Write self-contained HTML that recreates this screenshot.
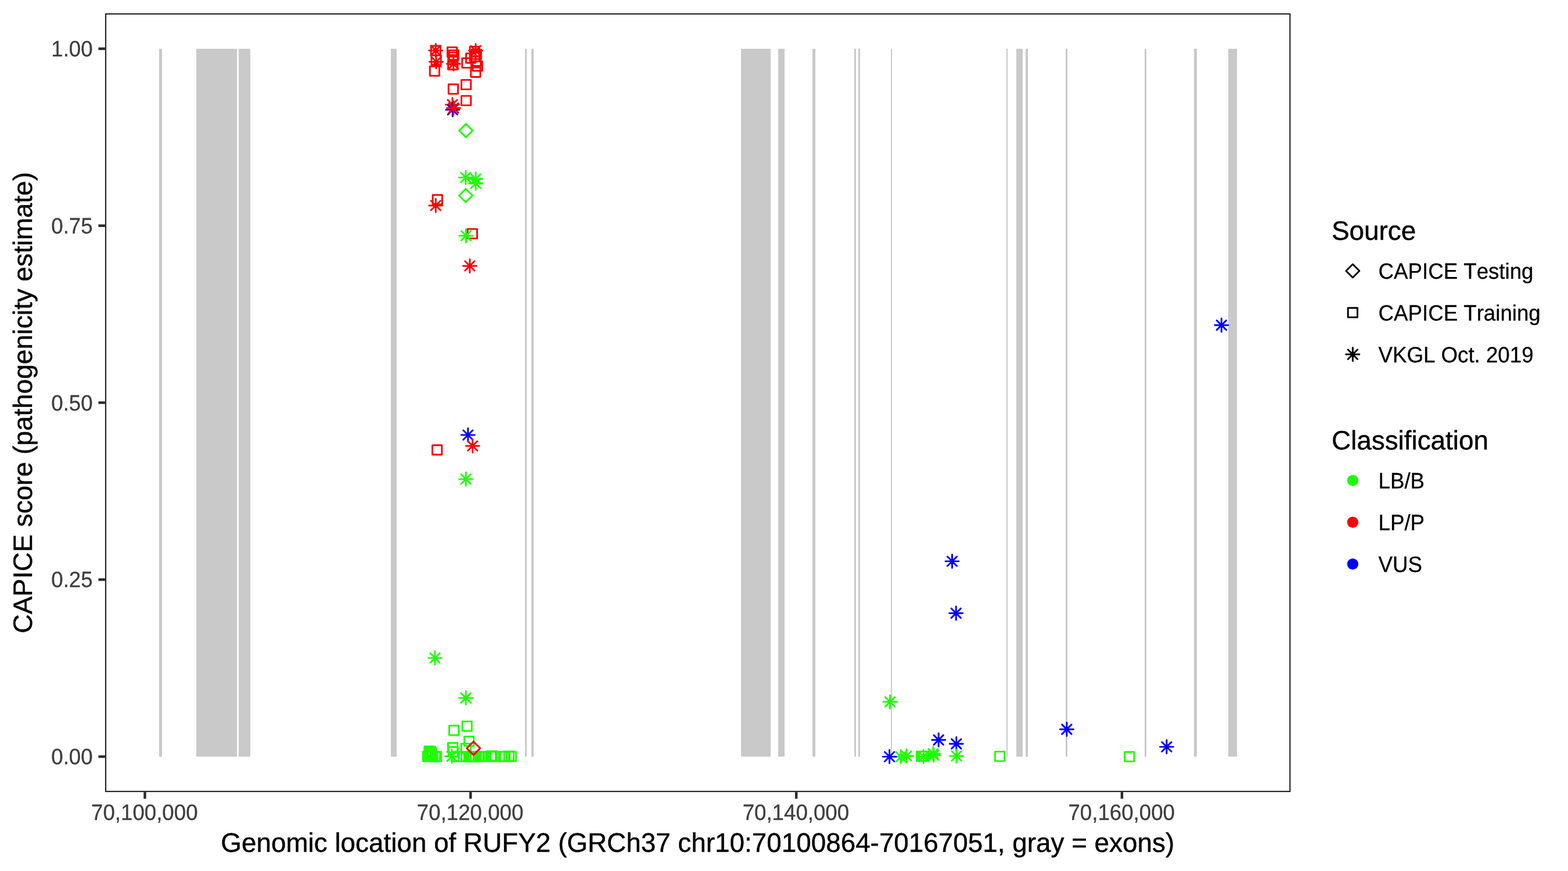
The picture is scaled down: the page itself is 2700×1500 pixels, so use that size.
<!DOCTYPE html>
<html lang="en"><head><meta charset="utf-8"><title>CAPICE score RUFY2</title>
<style>html,body{margin:0;padding:0;background:#fff}body{width:2700px;height:1500px;overflow:hidden}svg{display:block}text{font-family:"Liberation Sans",sans-serif;font-kerning:none;font-variant-ligatures:none;text-rendering:geometricPrecision}.ax{font-size:36.67px;fill:#3e3e3e;stroke:#3e3e3e;stroke-width:.3px}.ti{font-size:45.83px;fill:#000;stroke:#000;stroke-width:.45px}.lg{font-size:36.67px;fill:#000;stroke:#000;stroke-width:.3px}.p{fill:none;stroke-width:2.95;stroke-linecap:round;stroke-linejoin:round}</style></head><body>
<svg width="2700" height="1500" viewBox="0 0 2700 1500">
<rect width="2700" height="1500" fill="#fff"/>
<g fill="#c9c9c9" shape-rendering="crispEdges">
<rect x="274" y="84" width="5" height="1219"/>
<rect x="338" y="84" width="70" height="1219"/>
<rect x="411" y="84" width="20" height="1219"/>
<rect x="673" y="84" width="10" height="1219"/>
<rect x="904" y="84" width="3" height="1219"/>
<rect x="915" y="84" width="4" height="1219"/>
<rect x="1276" y="84" width="51" height="1219"/>
<rect x="1340" y="84" width="11" height="1219"/>
<rect x="1399" y="84" width="5" height="1219"/>
<rect x="1471" y="84" width="3" height="1219"/>
<rect x="1478" y="84" width="3" height="1219"/>
<rect x="1534" y="84" width="2" height="1219"/>
<rect x="1733" y="84" width="2" height="1219"/>
<rect x="1750" y="84" width="11" height="1219"/>
<rect x="1766" y="84" width="4" height="1219"/>
<rect x="1835" y="84" width="3" height="1219"/>
<rect x="1971" y="84" width="3" height="1219"/>
<rect x="2056" y="84" width="5" height="1219"/>
<rect x="2115" y="84" width="15" height="1219"/>
</g>
<path class="p" stroke="#1eff00" d="M728.26 1294.76h16.28v16.28h-16.28zM729.46 1294.76h16.28v16.28h-16.28zM730.56 1291.16h16.28v16.28h-16.28zM730.76 1294.76h16.28v16.28h-16.28zM730.86 1287.76h16.28v16.28h-16.28zM731.16 1285.36h16.28v16.28h-16.28zM731.46 1292.46h16.28v16.28h-16.28zM731.96 1294.76h16.28v16.28h-16.28zM732.06 1289.06h16.28v16.28h-16.28zM732.46 1285.96h16.28v16.28h-16.28zM732.76 1293.56h16.28v16.28h-16.28zM733.16 1294.76h16.28v16.28h-16.28zM733.36 1290.86h16.28v16.28h-16.28zM733.66 1286.56h16.28v16.28h-16.28zM734.36 1294.76h16.28v16.28h-16.28zM734.46 1288.26h16.28v16.28h-16.28zM734.66 1292.26h16.28v16.28h-16.28zM735.06 1289.76h16.28v16.28h-16.28zM735.56 1294.76h16.28v16.28h-16.28zM736.86 1294.76h16.28v16.28h-16.28z"/>
<path class="p" stroke="#fd0006" d="M740.26 114.16h16.28v16.28h-16.28z"/>
<path class="p" stroke="#1eff00" d="M741.16 1294.76h16.28v16.28h-16.28z"/>
<path class="p" stroke="#fd0006" d="M742.26 78.91h16.28v16.28h-16.28zM742.96 95.16h16.28v16.28h-16.28z"/>
<path class="p" stroke="#1eff00" d="M743.36 1294.76h16.28v16.28h-16.28z"/>
<path class="p" stroke="#fd0006" d="M744.56 766.66h16.28v16.28h-16.28zM745.16 335.66h16.28v16.28h-16.28zM770.46 81.46h16.28v16.28h-16.28z"/>
<path class="p" stroke="#1eff00" d="M771.46 1279.46h16.28v16.28h-16.28z"/>
<path class="p" stroke="#fd0006" d="M771.66 103.46h16.28v16.28h-16.28zM771.86 90.36h16.28v16.28h-16.28zM771.86 94.66h16.28v16.28h-16.28z"/>
<path class="p" stroke="#1eff00" d="M772.16 1286.56h16.28v16.28h-16.28z"/>
<path class="p" stroke="#fd0006" d="M772.36 145.26h16.28v16.28h-16.28zM773.26 86.76h16.28v16.28h-16.28z"/>
<path class="p" stroke="#1eff00" d="M773.46 1249.81h16.28v16.28h-16.28zM778.26 1294.76h16.28v16.28h-16.28zM790.36 1294.76h16.28v16.28h-16.28zM794.26 1280.76h16.28v16.28h-16.28z"/>
<path class="p" stroke="#fd0006" d="M794.56 137.61h16.28v16.28h-16.28zM794.56 165.11h16.28v16.28h-16.28zM795.84 100.34h16.28v16.28h-16.28z"/>
<path class="p" stroke="#1eff00" d="M796.06 1242.46h16.28v16.28h-16.28zM799.16 1294.76h16.28v16.28h-16.28zM799.56 1268.36h16.28v16.28h-16.28zM801.36 1294.76h16.28v16.28h-16.28z"/>
<path class="p" stroke="#fd0006" d="M802.56 91.96h16.28v16.28h-16.28z"/>
<path class="p" stroke="#1eff00" d="M803.26 1294.76h16.28v16.28h-16.28zM804.86 1294.76h16.28v16.28h-16.28z"/>
<path class="p" stroke="#fd0006" d="M805.26 394.36h16.28v16.28h-16.28z"/>
<path class="p" stroke="#1eff00" d="M806.56 1294.76h16.28v16.28h-16.28z"/>
<path class="p" stroke="#fd0006" d="M809.16 80.36h16.28v16.28h-16.28zM809.21 89.16h16.28v16.28h-16.28z"/>
<path class="p" stroke="#1eff00" d="M810.46 1294.76h16.28v16.28h-16.28z"/>
<path class="p" stroke="#fd0006" d="M810.83 116.26h16.28v16.28h-16.28zM811.46 97.26h16.28v16.28h-16.28zM812.16 85.36h16.28v16.28h-16.28zM814.06 105.76h16.28v16.28h-16.28z"/>
<path class="p" stroke="#1eff00" d="M816.11 1294.76h16.28v16.28h-16.28zM817.36 1294.76h16.28v16.28h-16.28zM821.16 1294.76h16.28v16.28h-16.28zM823.56 1294.76h16.28v16.28h-16.28zM825.96 1294.76h16.28v16.28h-16.28zM828.56 1294.76h16.28v16.28h-16.28zM837.26 1293.76h16.28v16.28h-16.28zM839.56 1293.76h16.28v16.28h-16.28zM843.01 1294.76h16.28v16.28h-16.28zM844.66 1294.76h16.28v16.28h-16.28zM859.96 1294.76h16.28v16.28h-16.28zM861.36 1294.76h16.28v16.28h-16.28zM868.16 1294.06h16.28v16.28h-16.28zM872.16 1294.76h16.28v16.28h-16.28zM1578.46 1294.31h16.28v16.28h-16.28zM1580.46 1294.31h16.28v16.28h-16.28zM1582.66 1294.31h16.28v16.28h-16.28zM1713.36 1294.36h16.28v16.28h-16.28zM1936.66 1295.06h16.28v16.28h-16.28z"/>
<path class="p" stroke="#1eff00" d="M790.76 224.9L802.27 213.39L813.78 224.9L802.27 236.41zM790.49 336.8L802 325.29L813.51 336.8L802 348.31z"/>
<path class="p" stroke="#fd0006" d="M803.79 1288.6L815.3 1277.09L826.81 1288.6L815.3 1300.11z"/>
<path class="p" stroke="#1eff00" d="M740.86 1124.96L757.14 1141.24M740.86 1141.24L757.14 1124.96M737.49 1133.1H760.51M749 1121.59V1144.61"/>
<path class="p" stroke="#fd0006" d="M742.16 78.86L758.44 95.14M742.16 95.14L758.44 78.86M738.79 87H761.81M750.3 75.49V98.51M742.16 345.76L758.44 362.04M742.16 362.04L758.44 345.76M738.79 353.9H761.81M750.3 342.39V365.41M742.96 98.26L759.24 114.54M742.96 114.54L759.24 98.26M739.59 106.4H762.61M751.1 94.89V117.91"/>
<path class="p" stroke="#1eff00" d="M769.86 1294.36L786.14 1310.64M769.86 1310.64L786.14 1294.36M766.49 1302.5H789.51M778 1290.99V1314.01"/>
<path class="p" stroke="#fd0006" d="M770.91 172.01L787.19 188.29M770.91 188.29L787.19 172.01M767.54 180.15H790.56M779.05 168.64V191.66"/>
<path class="p" stroke="#0000ff" d="M771.26 180.96L787.54 197.24M771.26 197.24L787.54 180.96M767.89 189.1H790.91M779.4 177.59V200.61"/>
<path class="p" stroke="#fd0006" d="M772.76 101.86L789.04 118.14M772.76 118.14L789.04 101.86M769.39 110H792.41M780.9 98.49V121.51M772.86 177.86L789.14 194.14M772.86 194.14L789.14 177.86M769.49 186H792.51M781 174.49V197.51"/>
<path class="p" stroke="#1eff00" d="M793.86 297.51L810.14 313.79M793.86 313.79L810.14 297.51M790.49 305.65H813.51M802 294.14V317.16M794.06 816.96L810.34 833.24M794.06 833.24L810.34 816.96M790.69 825.1H813.71M802.2 813.59V836.61M794.06 1193.86L810.34 1210.14M794.06 1210.14L810.34 1193.86M790.69 1202H813.71M802.2 1190.49V1213.51M794.36 397.76L810.64 414.04M794.36 414.04L810.64 397.76M790.99 405.9H814.01M802.5 394.39V417.41"/>
<path class="p" stroke="#0000ff" d="M797.71 740.96L813.99 757.24M797.71 757.24L813.99 740.96M794.34 749.1H817.36M805.85 737.59V760.61"/>
<path class="p" stroke="#fd0006" d="M800.76 449.76L817.04 466.04M800.76 466.04L817.04 449.76M797.39 457.9H820.41M808.9 446.39V469.41M805.66 759.76L821.94 776.04M805.66 776.04L821.94 759.76M802.29 767.9H825.31M813.8 756.39V779.41M810.91 79.16L827.19 95.44M810.91 95.44L827.19 79.16M807.54 87.3H830.56M819.05 75.79V98.81"/>
<path class="p" stroke="#1eff00" d="M811.01 300.06L827.29 316.34M811.01 316.34L827.29 300.06M807.64 308.2H830.66M819.15 296.69V319.71M811.01 307.66L827.29 323.94M811.01 323.94L827.29 307.66M807.64 315.8H830.66M819.15 304.29V327.31M1524.36 1200.66L1540.64 1216.94M1524.36 1216.94L1540.64 1200.66M1520.99 1208.8H1544.01M1532.5 1197.29V1220.31M1543.06 1295.16L1559.34 1311.44M1543.06 1311.44L1559.34 1295.16M1539.69 1303.3H1562.71M1551.2 1291.79V1314.81"/>
<path class="p" stroke="#0000ff" d="M1523.46 1294.96L1539.74 1311.24M1523.46 1311.24L1539.74 1294.96M1520.09 1303.1H1543.11M1531.6 1291.59V1314.61"/>
<path class="p" stroke="#1eff00" d="M1552.82 1293.76L1569.1 1310.04M1552.82 1310.04L1569.1 1293.76M1549.45 1301.9H1572.47M1560.96 1290.39V1313.41M1582.16 1294.82L1598.44 1311.1M1582.16 1311.1L1598.44 1294.82M1578.79 1302.96H1601.81M1590.3 1291.45V1314.47M1598.76 1289.76L1615.04 1306.04M1598.76 1306.04L1615.04 1289.76M1595.39 1297.9H1618.41M1606.9 1286.39V1309.41M1599.76 1292.46L1616.04 1308.74M1599.76 1308.74L1616.04 1292.46M1596.39 1300.6H1619.41M1607.9 1289.09V1312.11"/>
<path class="p" stroke="#0000ff" d="M1608.03 1266.16L1624.31 1282.44M1608.03 1282.44L1624.31 1266.16M1604.66 1274.3H1627.68M1616.17 1262.79V1285.81M1631.36 958.46L1647.64 974.74M1631.36 974.74L1647.64 958.46M1627.99 966.6H1651.01M1639.5 955.09V978.11M1638.11 1047.86L1654.39 1064.14M1638.11 1064.14L1654.39 1047.86M1634.74 1056H1657.76M1646.25 1044.49V1067.51M1638.66 1272.86L1654.94 1289.14M1638.66 1289.14L1654.94 1272.86M1635.29 1281H1658.31M1646.8 1269.49V1292.51"/>
<path class="p" stroke="#1eff00" d="M1638.86 1293.76L1655.14 1310.04M1638.86 1310.04L1655.14 1293.76M1635.49 1301.9H1658.51M1647 1290.39V1313.41"/>
<path class="p" stroke="#0000ff" d="M1828.76 1247.86L1845.04 1264.14M1828.76 1264.14L1845.04 1247.86M1825.39 1256H1848.41M1836.9 1244.49V1267.51M2000.76 1277.96L2017.04 1294.24M2000.76 1294.24L2017.04 1277.96M1997.39 1286.1H2020.41M2008.9 1274.59V1297.61M2095.16 551.86L2111.44 568.14M2095.16 568.14L2111.44 551.86M2091.79 560H2114.81M2103.3 548.49V571.51"/>
<rect x="182" y="24" width="2039.3" height="1339" fill="none" stroke="#262626" stroke-width="2.2"/>
<g stroke="#2b2b2b" stroke-width="4.45">
<line x1="169.44" x2="180.9" y1="1303" y2="1303"/>
<line x1="169.44" x2="180.9" y1="998.23" y2="998.23"/>
<line x1="169.44" x2="180.9" y1="693.45" y2="693.45"/>
<line x1="169.44" x2="180.9" y1="388.68" y2="388.68"/>
<line x1="169.44" x2="180.9" y1="83.9" y2="83.9"/>
<line x1="249.5" x2="249.5" y1="1364.1" y2="1375.56"/>
<line x1="810.3" x2="810.3" y1="1364.1" y2="1375.56"/>
<line x1="1371.1" x2="1371.1" y1="1364.1" y2="1375.56"/>
<line x1="1931.9" x2="1931.9" y1="1364.1" y2="1375.56"/>
</g>
<text class="ax" text-anchor="end" transform="translate(159.6 1316.1) scale(1 1.04)">0.00</text>
<text class="ax" text-anchor="end" transform="translate(159.6 1011.33) scale(1 1.04)">0.25</text>
<text class="ax" text-anchor="end" transform="translate(159.6 706.55) scale(1 1.04)">0.50</text>
<text class="ax" text-anchor="end" transform="translate(159.6 401.78) scale(1 1.04)">0.75</text>
<text class="ax" text-anchor="end" transform="translate(159.6 97) scale(1 1.04)">1.00</text>
<text class="ax" text-anchor="middle" transform="translate(248.8 1411.9) scale(1 1.04)">70,100,000</text>
<text class="ax" text-anchor="middle" transform="translate(809.6 1411.9) scale(1 1.04)">70,120,000</text>
<text class="ax" text-anchor="middle" transform="translate(1370.4 1411.9) scale(1 1.04)">70,140,000</text>
<text class="ax" text-anchor="middle" transform="translate(1931.2 1411.9) scale(1 1.04)">70,160,000</text>
<text class="ti" text-anchor="middle" transform="translate(1201.25 1467.1) scale(1 1.01)">Genomic location of RUFY2 (GRCh37 chr10:70100864-70167051, gray = exons)</text>
<text class="ti" text-anchor="middle" transform="translate(55.2 693.5) rotate(-90)">CAPICE score (pathogenicity estimate)</text>
<text class="ti" transform="translate(2293 412.8)">Source</text>
<path class="p" stroke="#000" d="M2317.79 466.5L2329.3 454.99L2340.81 466.5L2329.3 478.01zM2321.16 530.26h16.28v16.28h-16.28zM2321.16 602.16L2337.44 618.44M2321.16 618.44L2337.44 602.16M2317.79 610.3H2340.81M2329.3 598.79V621.81"/>
<text class="lg" transform="translate(2373.6 479.7) scale(1 1.04)">CAPICE Testing</text>
<text class="lg" transform="translate(2373.6 551.6) scale(1 1.04)">CAPICE Training</text>
<text class="lg" transform="translate(2373.6 623.5) scale(1 1.04)">VKGL Oct. 2019</text>
<text class="ti" transform="translate(2293 774.1)">Classification</text>
<circle cx="2329.3" cy="827.4" r="9.6" fill="#1eff00"/>
<text class="lg" transform="translate(2373.6 840.6) scale(1 1.04)">LB/B</text>
<circle cx="2329.3" cy="899.4" r="9.6" fill="#fd0006"/>
<text class="lg" transform="translate(2373.6 912.6) scale(1 1.04)">LP/P</text>
<circle cx="2329.3" cy="971.4" r="9.6" fill="#0000ff"/>
<text class="lg" transform="translate(2373.6 984.6) scale(1 1.04)">VUS</text>
</svg></body></html>
